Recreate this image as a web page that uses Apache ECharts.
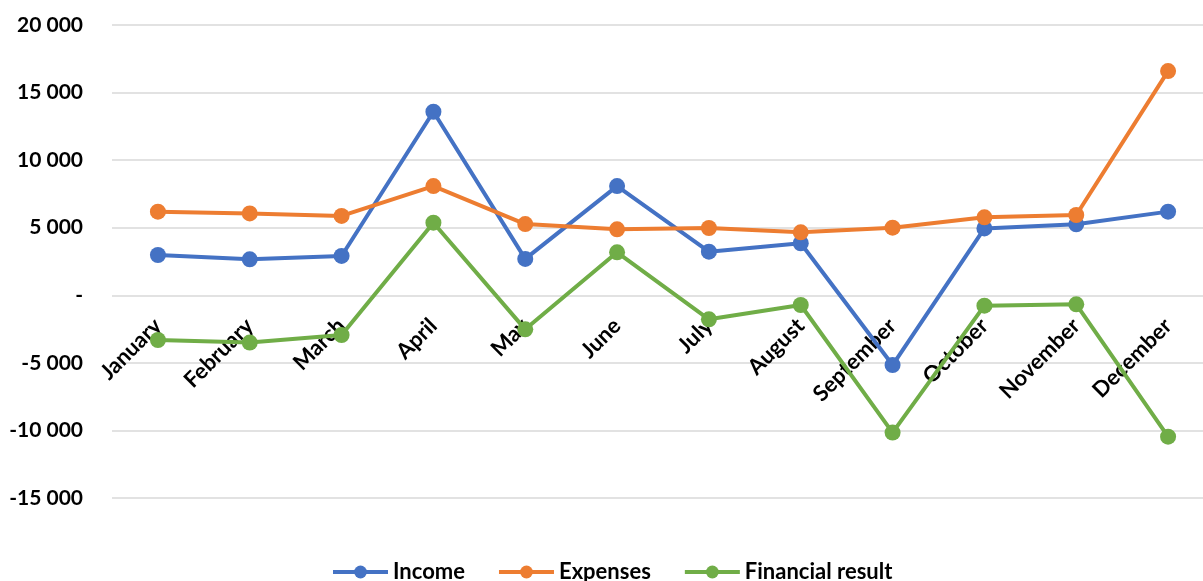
<!DOCTYPE html>
<html>
<head>
<meta charset="utf-8">
<script src="https://cdn.jsdelivr.net/npm/echarts@6/dist/echarts.min.js"></script>
<style>
  html, body { margin: 0; padding: 0; background: #ffffff; }
  #chart { width: 1203px; height: 581px; }
</style>
</head>
<body>
<div id="chart"></div>
<script>
// Monthly figures
const months = ['January', 'February', 'March', 'April', 'May', 'June',
  'July', 'August', 'September', 'October', 'November', 'December'];
const income = [2980, 2660, 2910, 13580, 2690, 8080, 3230, 3850, -5160, 4950, 5250, 6190];
const expenses = [6190, 6060, 5870, 8080, 5270, 4880, 4980, 4660, 5000, 5770, 5940, 16590];
const financialResult = [-3310, -3500, -2940, 5370, -2520, 3180, -1780, -720, -10160, -770, -670, -10460];
const seriesNames = ['Income', 'Expenses', 'Financial result'];
const colors = ['#4472C4', '#ED7D31', '#70AD47'];

const FONT = 'Lato, "Open Sans", sans-serif';

// "20 000" style with a dash for zero
function fmt(v) {
  if (v === 0) return '-';
  const s = Math.abs(v).toString().replace(/\B(?=(\d{3})+(?!\d))/g, ' ');
  return (v < 0 ? '-' : '') + s;
}

function lineSeries(name, data, color) {
  return {
    name: name,
    type: 'line',
    data: data,
    symbol: 'circle',
    symbolSize: 16,
    lineStyle: { color: color, width: 4 },
    itemStyle: { color: color },
    emphasis: { disabled: true },
    z: 3
  };
}

const GRID_TOP = 25;
const GRID_BOTTOM = 83;
const Y_MIN = -15000;
const Y_MAX = 20000;
// month names sit just under the zero line, as in a spreadsheet chart
const plotH = 581 - GRID_TOP - GRID_BOTTOM;
const zeroFromBottom = plotH * (0 - Y_MIN) / (Y_MAX - Y_MIN);

const chart = echarts.init(document.getElementById('chart'), null, { renderer: 'canvas' });
chart.setOption({
  animation: false,
  color: colors,
  grid: {
    left: 112, width: 1102, top: GRID_TOP, bottom: GRID_BOTTOM,
    containLabel: false, outerBoundsMode: 'none'
  },
  xAxis: {
    type: 'category',
    data: months,
    boundaryGap: true,
    axisLine: { show: false, onZero: false },
    axisTick: { show: false },
    axisLabel: {
      rotate: 45,
      margin: 27 - zeroFromBottom,
      color: '#000',
      fontFamily: FONT,
      fontWeight: 'bold',
      fontSize: 22
    }
  },
  yAxis: {
    type: 'value',
    min: Y_MIN,
    max: Y_MAX,
    interval: 5000,
    axisLine: { show: false },
    axisTick: { show: false },
    splitLine: { lineStyle: { color: '#d9d9d9', width: 1.5 } },
    axisLabel: {
      formatter: fmt,
      margin: 29,
      color: '#000',
      fontFamily: FONT,
      fontWeight: 'bold',
      fontSize: 21
    }
  },
  legend: {
    top: 556,
    left: 326,
    itemWidth: 55,
    itemHeight: 16,
    itemGap: 32,
    lineStyle: { width: 4 },
    textStyle: { color: '#000', fontFamily: FONT, fontWeight: 'bold', fontSize: 22 },
    data: seriesNames
  },
  series: [
    lineSeries(seriesNames[0], income, colors[0]),
    lineSeries(seriesNames[1], expenses, colors[1]),
    lineSeries(seriesNames[2], financialResult, colors[2])
  ]
});
</script>
</body>
</html>
